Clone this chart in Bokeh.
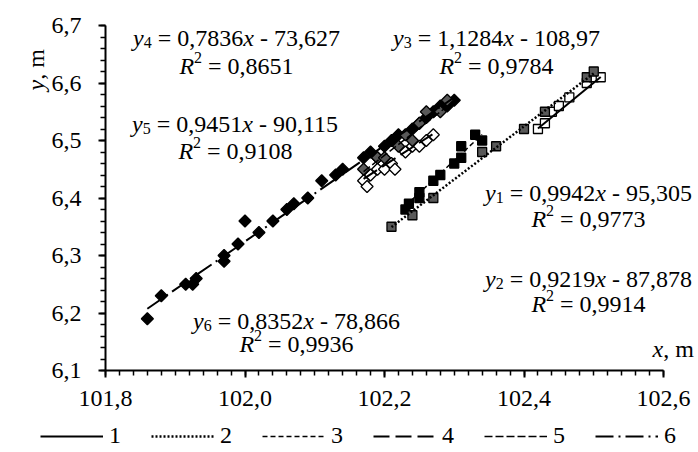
import numpy as np
from bokeh.plotting import figure
from bokeh.models import FixedTicker, Label, Legend, LegendItem, Range1d
from bokeh.embed import file_html
from bokeh.resources import INLINE

# ---------------- data ----------------
s1_x = [102.42, 102.43, 102.44, 102.45, 102.465, 102.49, 102.50, 102.51]
s1_y = [6.52, 6.53, 6.55, 6.56, 6.575, 6.60, 6.61, 6.61]

s2_x = [102.21, 102.24, 102.27, 102.34, 102.36, 102.40, 102.43, 102.49, 102.50]
s2_y = [6.35, 6.37, 6.40, 6.48, 6.49, 6.52, 6.55, 6.61, 6.62]

s3_x = [102.23, 102.235, 102.25, 102.25, 102.27, 102.28, 102.30, 102.31, 102.31, 102.33, 102.34]
s3_y = [6.38, 6.39, 6.40, 6.41, 6.43, 6.44, 6.46, 6.47, 6.49, 6.51, 6.50]

s4_x = [102.17, 102.175, 102.18, 102.19, 102.20, 102.21, 102.215, 102.23, 102.24, 102.25, 102.26, 102.27]
s4_y = [6.43, 6.42, 6.44, 6.45, 6.45, 6.46, 6.45, 6.48, 6.49, 6.49, 6.50, 6.51]

s5_x = [102.17, 102.19, 102.20, 102.22, 102.23, 102.24, 102.25, 102.26, 102.28, 102.29]
s5_y = [6.45, 6.47, 6.47, 6.49, 6.51, 6.50, 6.53, 6.55, 6.55, 6.57]

s6_x = [101.86, 101.88, 101.915, 101.925, 101.93, 101.97, 101.97, 101.99, 102.00, 102.02,
        102.04, 102.06, 102.07, 102.09, 102.11, 102.13, 102.14, 102.17, 102.18, 102.19,
        102.20, 102.21, 102.22, 102.24, 102.25, 102.26, 102.27, 102.28, 102.29, 102.30]
s6_y = [6.19, 6.23, 6.25, 6.25, 6.26, 6.29, 6.30, 6.32, 6.36, 6.34,
        6.36, 6.38, 6.39, 6.40, 6.43, 6.44, 6.45, 6.47, 6.48, 6.47,
        6.49, 6.50, 6.51, 6.52, 6.53, 6.54, 6.55, 6.56, 6.56, 6.57]

series_names = ["1", "2", "3", "4", "5", "6"]
slopes = [0.9942, 0.9219, 1.1284, 0.7836, 0.9451, 0.8352]
intercepts = [-95.305, -87.878, -108.97, -73.627, -90.115, -78.866]
r2_values = [0.9773, 0.9914, 0.9784, 0.8651, 0.9108, 0.9936]

x_ticks = [101.8, 102.0, 102.2, 102.4, 102.6]
x_tick_labels = ["101,8", "102,0", "102,2", "102,4", "102,6"]
y_ticks = [6.1, 6.2, 6.3, 6.4, 6.5, 6.6, 6.7]
y_tick_labels = ["6,1", "6,2", "6,3", "6,4", "6,5", "6,6", "6,7"]

# ---------------- layout ----------------
FONT = "Liberation Serif"
W, H = 698, 452
# axis box inside the canvas (canvas pixels)
AX_L, AX_R, AX_T, AX_B = 105, 663, 25, 370
X0, X1, Y0, Y1 = 101.8, 102.6, 6.1, 6.7
sx = (AX_R - AX_L) / (X1 - X0)
sy = (AX_B - AX_T) / (Y1 - Y0)
XL = X0 - AX_L / sx
XR = X1 + (W - AX_R) / sx
YT = Y1 + AX_T / sy
YB = Y0 - (H - AX_B) / sy

def to_data(px, py):
    return X0 + (px - AX_L) / sx, Y0 + (AX_B - py) / sy

p = figure(width=W, height=H, x_range=Range1d(XL, XR), y_range=Range1d(YB, YT),
           output_backend="svg", toolbar_location=None,
           min_border=0, min_border_left=0, min_border_right=0,
           min_border_top=0, min_border_bottom=0)
p.outline_line_color = None
p.grid.visible = False
p.background_fill_color = "white"
p.border_fill_color = "white"

x_minor = [round(v, 2) for v in np.arange(101.8, 102.6001, 0.02)]
y_minor = [round(v, 2) for v in np.arange(6.1, 6.7001, 0.02)]
p.xaxis.ticker = FixedTicker(ticks=x_ticks, minor_ticks=x_minor)
p.yaxis.ticker = FixedTicker(ticks=y_ticks, minor_ticks=y_minor)
p.xaxis.major_label_overrides = dict(zip(x_ticks, x_tick_labels))
p.yaxis.major_label_overrides = dict(zip(y_ticks, y_tick_labels))
p.xaxis.fixed_location = Y0
p.yaxis.fixed_location = X0
p.xaxis.bounds = (X0, X1)
p.yaxis.bounds = (Y0, Y1)
for ax in (p.xaxis, p.yaxis):
    ax.axis_line_width = 2
    ax.axis_line_color = "black"
    ax.major_tick_line_width = 2
    ax.minor_tick_line_width = 1.5
    ax.major_tick_line_color = "black"
    ax.minor_tick_line_color = "black"
    ax.major_tick_in = 0
    ax.major_tick_out = 7
    ax.minor_tick_in = 0
    ax.minor_tick_out = 5
    ax.major_label_text_font = FONT
    ax.major_label_text_font_size = "24px"
    ax.major_label_text_color = "black"
p.xaxis.major_label_standoff = 13
p.yaxis.major_label_standoff = 17

# ---------------- markers ----------------
xs = [s1_x, s2_x, s3_x, s4_x, s5_x, s6_x]
ys = [s1_y, s2_y, s3_y, s4_y, s5_y, s6_y]
fills = ["white", "#595959", "black", "white", "#595959", "black"]
angles = [0, 0, 0, np.pi / 4, np.pi / 4, np.pi / 4]
sizes = [9, 9, 9, 8.5, 8.5, 8.5]
for i in [5, 3, 4, 2, 0, 1]:
    p.scatter(xs[i], ys[i], marker="square", size=sizes[i], angle=angles[i],
              fill_color=fills[i], line_color="black", line_width=1.3)

# ---------------- trend lines ----------------
dashes = ["solid", "2 2", "5 3", "16 6", "8 3", "18 5 2 5"]
widths = [2, 2.5, 1.5, 2, 1.5, 2]
items = []
for i in range(6):
    xa, xb = min(xs[i]), max(xs[i])
    r = p.line([xa, xb], [slopes[i] * xa + intercepts[i], slopes[i] * xb + intercepts[i]],
               line_color="black", line_width=widths[i], line_dash=dashes[i])
    items.append(LegendItem(label=series_names[i], renderers=[r]))

legend = Legend(items=items, orientation="horizontal", location=(40, 3),
                glyph_width=63, glyph_height=24, label_standoff=6, spacing=22,
                padding=0, margin=0, border_line_alpha=0, background_fill_alpha=0,
                label_text_font=FONT, label_text_font_size="24px", label_text_color="black")
p.add_layout(legend)

# ---------------- rich text helper ----------------
REG = {" ": 0.25, ",": 0.25, "=": 0.564, "-": 0.333, "m": 0.778, "R": 0.667}
ITA = {"y": 0.444, "x": 0.444, "R": 0.611}
SIZES = {"n": 24, "i": 24, "sub": 16, "sup": 16}

def w_of(t, k):
    tab = ITA if k == "i" else REG
    return sum((0.5 if ch.isdigit() else tab.get(ch, REG.get(ch, 0.5))) for ch in t) * SIZES[k]

def rich(pieces, px, py, align="center", angle=0.0):
    total = sum(w_of(t, k) for t, k in pieces)
    off = -total / 2 if align == "center" else 0.0
    ax, ay = to_data(px, py)
    for t, k in pieces:
        lead = len(t) - len(t.lstrip(" "))
        core = t.strip(" ")
        trail = len(t) - lead - len(core)
        off += lead * 0.25 * SIZES[k]
        dy = {"sub": -5, "sup": 8}.get(k, 0)
        if angle == 0:
            xo, yo = off, dy
        else:
            xo, yo = -dy, off
        p.add_layout(Label(x=ax, y=ay, x_offset=xo, y_offset=yo, text=core, angle=angle,
                           text_font=FONT, text_font_size=f"{SIZES[k]}px",
                           text_font_style="italic" if k == "i" else "normal",
                           text_align="left", text_baseline="alphabetic", text_color="black"))
        off += w_of(core, k) + trail * 0.25 * SIZES[k]

def num(v):
    return f"{v:g}".replace(".", ",")

# equation placements: (centre x, baseline 1, baseline 2) in canvas pixels
eq_pos = [(588, 192, 218), (588, 278, 303), (496, 37, 65),
          (236, 37, 65), (235, 123, 150), (296, 320, 343)]
for i in range(6):
    cx, b1, b2 = eq_pos[i]
    rich([("y", "i"), (series_names[i], "sub"), (" = " + num(slopes[i]), "n"), ("x", "i"),
          (" - " + num(abs(intercepts[i])), "n")], cx, b1)
    rich([("R", "i"), ("2", "sup"), (" = " + num(r2_values[i]), "n")], cx, b2)

# axis titles
rich([("x", "i"), (", m", "n")], 652, 348, align="left")
rich([("y", "i"), (", m", "n")], 35, 90, align="left", angle=np.pi / 2)

open("out.html", "w").write(file_html(p, INLINE))
